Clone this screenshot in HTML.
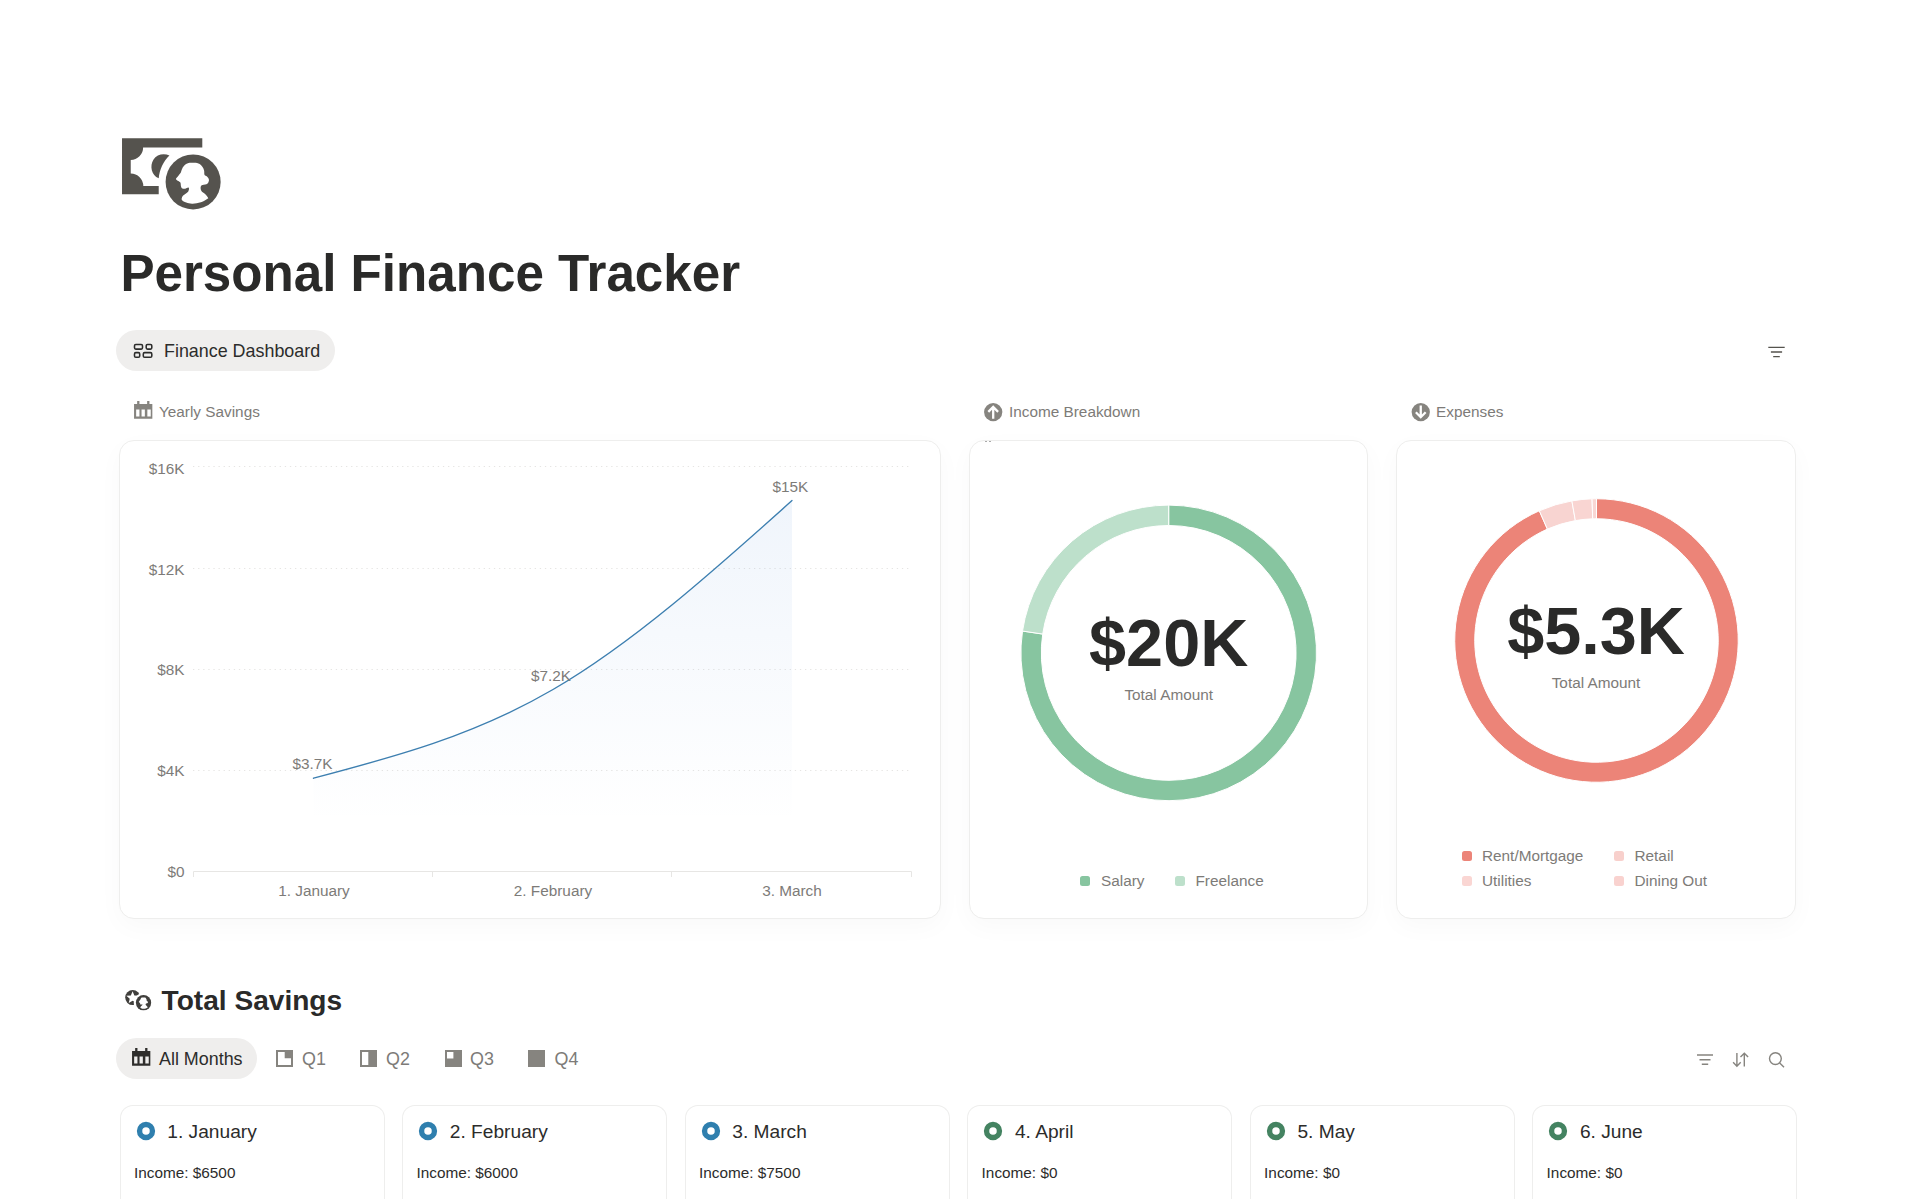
<!DOCTYPE html>
<html lang="en">
<head>
<meta charset="utf-8">
<title>Personal Finance Tracker</title>
<style>
*{box-sizing:border-box;margin:0;padding:0}
html,body{width:1920px;height:1199px;overflow:hidden;background:#fff}
body{position:relative;font-family:"Liberation Sans",Arial,sans-serif;color:#2c2c2b}
.abs{position:absolute;white-space:nowrap}
svg{position:absolute;overflow:visible}
#title{left:120.4px;top:245px;font-size:51.15px;line-height:58px;font-weight:700;color:#2a2a29}
.pill{background:#efeeed;border-radius:20.5px;height:41px}
.tabtxt{font-size:17.9px;line-height:40px;color:#2c2c2b}
.tabtxt.g{color:#7d7b78}
.lbl{font-size:15.34px;line-height:20px;color:#7d7b78}
.card{position:absolute;background:#fff;border:1px solid #eeeeed;border-radius:15px;box-shadow:0 8px 26px rgba(0,0,0,0.028)}
.mcard{position:absolute;background:#fff;border:1px solid #eeeeed;border-bottom:none;border-radius:13px 13px 0 0;top:1105px;height:100px;width:265px}
.mt{font-size:19.17px;line-height:24px;color:#2c2c2b;top:1120px}
.mi{font-size:15.34px;line-height:20px;color:#2c2c2b;top:1163px}
.big{font-size:66.6px;line-height:70px;font-weight:700;color:#2a2a29;text-align:center;width:400px}
.ta{font-size:15.34px;line-height:20px;color:#7d7b78;text-align:center;width:400px}
.lg{font-size:15.34px;line-height:20px;color:#7d7b78}
.sq{position:absolute;width:10px;height:10px;border-radius:2.5px}
#h2{left:161.6px;top:984px;font-size:28.1px;line-height:34px;font-weight:700;color:#2a2a29}
</style>
</head>
<body>
<div id="title" class="abs">Personal Finance Tracker</div>

<div class="abs pill" style="left:115.5px;top:330px;width:219.5px"></div>
<div class="abs tabtxt" style="left:164px;top:331px">Finance Dashboard</div>

<div class="abs lbl" style="left:159px;top:402px">Yearly Savings</div>
<div class="abs lbl" style="left:1009px;top:402px">Income Breakdown</div>
<div class="abs lbl" style="left:1436px;top:402px">Expenses</div>

<div class="card" style="left:119px;top:440px;width:822px;height:479px"></div>
<div class="card" style="left:969px;top:440px;width:399px;height:479px"></div>
<div class="card" style="left:1396px;top:440px;width:400px;height:479px"></div>

<svg id="charts" style="left:0;top:0" width="1920" height="1199" viewBox="0 0 1920 1199" font-family="Liberation Sans, Arial, sans-serif">
<defs><linearGradient id="ag" x1="0" y1="500" x2="0" y2="871" gradientUnits="userSpaceOnUse"><stop offset="0" stop-color="#4b87d7" stop-opacity="0.085"/><stop offset="0.87" stop-color="#4b87d7" stop-opacity="0.0"/></linearGradient></defs>
<line x1="193" y1="466.5" x2="912" y2="466.5" stroke="#e6e5e3" stroke-width="1" stroke-dasharray="1.3 3.8"/>
<line x1="193" y1="568.5" x2="912" y2="568.5" stroke="#e6e5e3" stroke-width="1" stroke-dasharray="1.3 3.8"/>
<line x1="193" y1="669.5" x2="912" y2="669.5" stroke="#e6e5e3" stroke-width="1" stroke-dasharray="1.3 3.8"/>
<line x1="193" y1="770.5" x2="912" y2="770.5" stroke="#e6e5e3" stroke-width="1" stroke-dasharray="1.3 3.8"/>
<path d="M313.5 778.2C393.33 757.12 473.17 736.05 553 689.5C632.67 643.24 712.33 572.02 792 500.6L792 871L313.5 871Z" fill="url(#ag)"/>
<path d="M313.5 778.2C393.33 757.12 473.17 736.05 553 689.5C632.67 643.24 712.33 572.02 792 500.6" fill="none" stroke="#3d7fb0" stroke-width="1.4" stroke-linecap="round"/>
<path d="M193.5 877V871.5H911.5V877M432.5 871.5V877M671.5 871.5V877" fill="none" stroke="#e7e6e4" stroke-width="1"/>
<g font-size="15.34" fill="#7d7b78" text-anchor="end">
<text x="184.5" y="473.8">$16K</text>
<text x="184.5" y="574.6">$12K</text>
<text x="184.5" y="675.4">$8K</text>
<text x="184.5" y="776.2">$4K</text>
<text x="184.5" y="877">$0</text>
</g>
<g font-size="15.34" fill="#7d7b78" text-anchor="middle">
<text x="314" y="896">1. January</text>
<text x="553" y="896">2. February</text>
<text x="792" y="896">3. March</text>
<text x="312.5" y="769.2">$3.7K</text><text x="551" y="680.6">$7.2K</text><text x="790.3" y="492.2">$15K</text>
</g>
<path d="M1168.70 505.10A147.8 147.8 0 1 1 1022.52 631.05L1042.70 634.07A127.4 127.4 0 1 0 1168.70 525.50Z" fill="#87c5a0" stroke="#fff" stroke-width="1"/>
<path d="M1022.52 631.05A147.8 147.8 0 0 1 1168.70 505.10L1168.70 525.50A127.4 127.4 0 0 0 1042.70 634.07Z" fill="#bde0cb" stroke="#fff" stroke-width="1"/>
<path d="M1596.50 498.75A141.75 141.75 0 1 1 1539.30 510.80L1547.37 529.10A121.75 121.75 0 1 0 1596.50 518.75Z" fill="#ec8478" stroke="#fff" stroke-width="1"/>
<path d="M1539.30 510.80A141.75 141.75 0 0 1 1571.89 500.90L1575.36 520.60A121.75 121.75 0 0 0 1547.37 529.10Z" fill="#f8d4d1" stroke="#fff" stroke-width="1"/>
<path d="M1571.89 500.90A141.75 141.75 0 0 1 1592.05 498.82L1592.68 518.81A121.75 121.75 0 0 0 1575.36 520.60Z" fill="#f9d5d2" stroke="#fff" stroke-width="1"/>
<path d="M1592.05 498.82A141.75 141.75 0 0 1 1596.50 498.75L1596.50 518.75A121.75 121.75 0 0 0 1592.68 518.81Z" fill="#f9d7d4" stroke="#fff" stroke-width="1"/>
</svg>

<div class="abs big" style="left:968.7px;top:608px">$20K</div>
<div class="abs ta" style="left:968.7px;top:685px">Total Amount</div>
<div class="abs big" style="left:1396px;top:596px">$5.3K</div>
<div class="abs ta" style="left:1396px;top:673px">Total Amount</div>

<div class="sq" style="left:1080.3px;top:875.6px;background:#87c5a0"></div>
<div class="abs lg" style="left:1101px;top:871px">Salary</div>
<div class="sq" style="left:1175px;top:875.6px;background:#bde0cb"></div>
<div class="abs lg" style="left:1195.5px;top:871px">Freelance</div>

<div class="sq" style="left:1462px;top:851.3px;background:#ec8478"></div>
<div class="abs lg" style="left:1482px;top:846px">Rent/Mortgage</div>
<div class="sq" style="left:1614.2px;top:851.3px;background:#f8d0cc"></div>
<div class="abs lg" style="left:1634.5px;top:846px">Retail</div>
<div class="sq" style="left:1462px;top:875.8px;background:#fad6d3"></div>
<div class="abs lg" style="left:1482px;top:871px">Utilities</div>
<div class="sq" style="left:1614.2px;top:875.8px;background:#f9d2cf"></div>
<div class="abs lg" style="left:1634.5px;top:871px">Dining Out</div>

<div id="h2" class="abs">Total Savings</div>

<div class="abs pill" style="left:115.5px;top:1038px;width:141.5px"></div>
<div class="abs tabtxt" style="left:159px;top:1039px">All Months</div>
<div class="abs tabtxt g" style="left:302px;top:1039px">Q1</div>
<div class="abs tabtxt g" style="left:386px;top:1039px">Q2</div>
<div class="abs tabtxt g" style="left:470px;top:1039px">Q3</div>
<div class="abs tabtxt g" style="left:554.5px;top:1039px">Q4</div>

<div class="mcard" style="left:120px"></div>
<svg style="left:135.8px;top:1121.4px" width="20" height="20" viewBox="0 0 20 20"><circle cx="10" cy="10" r="6.45" fill="none" stroke="#2f7fae" stroke-width="5.4"/></svg>
<div class="abs mt" style="left:167.3px">1. January</div>
<div class="abs mi" style="left:134.0px">Income: $6500</div>
<div class="mcard" style="left:402px"></div>
<svg style="left:418.3px;top:1121.4px" width="20" height="20" viewBox="0 0 20 20"><circle cx="10" cy="10" r="6.45" fill="none" stroke="#2f7fae" stroke-width="5.4"/></svg>
<div class="abs mt" style="left:449.8px">2. February</div>
<div class="abs mi" style="left:416.5px">Income: $6000</div>
<div class="mcard" style="left:685px"></div>
<svg style="left:700.8px;top:1121.4px" width="20" height="20" viewBox="0 0 20 20"><circle cx="10" cy="10" r="6.45" fill="none" stroke="#2f7fae" stroke-width="5.4"/></svg>
<div class="abs mt" style="left:732.3px">3. March</div>
<div class="abs mi" style="left:699.0px">Income: $7500</div>
<div class="mcard" style="left:967px"></div>
<svg style="left:983.4px;top:1121.4px" width="20" height="20" viewBox="0 0 20 20"><circle cx="10" cy="10" r="6.45" fill="none" stroke="#448361" stroke-width="5.4"/></svg>
<div class="abs mt" style="left:1014.9px">4. April</div>
<div class="abs mi" style="left:981.6px">Income: $0</div>
<div class="mcard" style="left:1250px"></div>
<svg style="left:1265.9px;top:1121.4px" width="20" height="20" viewBox="0 0 20 20"><circle cx="10" cy="10" r="6.45" fill="none" stroke="#448361" stroke-width="5.4"/></svg>
<div class="abs mt" style="left:1297.4px">5. May</div>
<div class="abs mi" style="left:1264.1px">Income: $0</div>
<div class="mcard" style="left:1532px"></div>
<svg style="left:1548.4px;top:1121.4px" width="20" height="20" viewBox="0 0 20 20"><circle cx="10" cy="10" r="6.45" fill="none" stroke="#448361" stroke-width="5.4"/></svg>
<div class="abs mt" style="left:1579.9px">6. June</div>
<div class="abs mi" style="left:1546.6px">Income: $0</div>
<svg style="left:100px;top:120px" width="160" height="110" viewBox="0 0 1744 1199">
<path fill="#55534e" d="M240 200H1115V300H470A135 135 0 0 1 335 435V582A138 138 0 0 1 472 720H640V810H240Z"/>
<path fill="#55534e" d="M757 388C700 360 620 372 582 432C540 500 560 600 640 636C650 540 690 450 757 388Z"/>
<circle cx="1015" cy="675" r="300" fill="#55534e"/>
<path fill="#fff" d="M1009.0 467.0C1033.4 467.0 1052.1 467.0 1073.0 475.0C1093.9 483.0 1101.3 492.4 1113.5 507.0C1125.7 521.6 1128.7 529.4 1134.0 548.0C1139.3 566.6 1133.6 586.6 1140.0 600.0C1146.4 613.4 1156.8 606.2 1166.0 615.0C1175.2 623.8 1182.6 631.8 1186.0 644.0C1189.4 656.2 1188.2 665.0 1183.0 676.0C1177.8 687.0 1175.6 691.4 1160.0 699.0C1144.4 706.6 1116.4 700.0 1105.0 714.0C1093.6 728.0 1094.4 749.8 1103.0 769.0C1111.6 788.2 1133.1 794.2 1148.0 810.0C1162.9 825.8 1172.7 838.2 1177.5 848.0C1182.3 857.8 1187.5 849.2 1172.0 859.0C1156.5 868.8 1132.6 886.4 1100.0 897.0C1067.4 907.6 1041.0 911.4 1009.0 912.0C977.0 912.6 962.7 907.6 940.0 900.0C917.3 892.4 904.9 883.9 895.4 874.0C885.9 864.1 889.6 861.0 892.5 850.5C895.4 840.0 896.1 836.0 910.0 821.5C923.9 807.0 951.0 794.9 962.0 778.0C973.0 761.1 972.0 742.8 965.0 737.0C958.0 731.2 940.4 747.2 927.0 749.0C913.6 750.8 906.6 750.2 898.0 746.0C889.4 741.8 888.0 739.6 884.0 728.0C880.0 716.4 881.0 698.4 878.0 688.0C875.0 677.6 878.9 684.2 869.0 676.0C859.1 667.8 833.1 658.6 828.5 647.0C823.9 635.4 835.5 633.2 846.0 618.0C856.5 602.8 872.8 583.8 881.0 571.0C889.2 558.2 881.2 566.8 887.0 554.0C892.8 541.2 897.2 522.8 910.0 507.0C922.8 491.2 931.2 483.0 951.0 475.0C970.8 467.0 984.6 467.0 1009.0 467.0Z"/>
</svg>
<svg style="left:133px;top:343px" width="20" height="16" viewBox="0 0 20 16" fill="none" stroke="#2c2c2b" stroke-width="1.55">
<rect x="1.5" y="1.5" width="8" height="4.6" rx="1.3"/><rect x="13.2" y="1.5" width="5.6" height="4.6" rx="1.3"/>
<rect x="1.5" y="9.6" width="5.2" height="4.6" rx="1.3"/><rect x="10.3" y="9.6" width="8.5" height="4.6" rx="1.3"/></svg>
<svg style="left:134.1px;top:401.4px" width="18.4" height="17.7" viewBox="0 0 18.3 17.7"><path fill="#86847f" fill-rule="evenodd" d="M0 2.9H3.1V0H5.4V2.9H13.1V0H15.4V2.9H18.3V17.7H0ZM2.1 8.5V15.6H5.4V8.5ZM7.5 8.5V15.6H10.8V8.5ZM13.3 8.5V15.6H16.7V8.5Z"/></svg>
<svg style="left:131.6px;top:1048.2px" width="18.4" height="17.7" viewBox="0 0 18.3 17.7"><path fill="#2f2e2c" fill-rule="evenodd" d="M0 2.9H3.1V0H5.4V2.9H13.1V0H15.4V2.9H18.3V17.7H0ZM2.1 8.5V15.6H5.4V8.5ZM7.5 8.5V15.6H10.8V8.5ZM13.3 8.5V15.6H16.7V8.5Z"/></svg>
<svg style="left:0;top:0" width="1920" height="1199" viewBox="0 0 1920 1199"><g transform="translate(993.2 412.1) scale(1 -1)"><circle r="9.15" fill="#86847f"/><path d="M0 -6.6V4.6M-4.9 0.2L0 5.1L4.9 0.2" fill="none" stroke="#fff" stroke-width="2.3"/></g><g transform="translate(1420.75 412.1)"><circle r="9.15" fill="#86847f"/><path d="M0 -6.6V4.6M-4.9 0.2L0 5.1L4.9 0.2" fill="none" stroke="#fff" stroke-width="2.3"/></g><path d="M1768.3 347.4H1784.7M1770.9 352H1782.1M1773.2 356.6H1779.8" stroke="#55534e" stroke-width="1.4" fill="none"/><path d="M1697 1055H1713M1699.5 1059.7H1710.5M1701.8 1064.3H1708.2" stroke="#86847f" stroke-width="1.4" fill="none"/><path d="M1736.9 1053V1066M1733.1 1062.3L1736.9 1066.2L1740.7 1062.3M1744.3 1066.5V1053.3M1740.5 1057.1L1744.3 1053.2L1748.1 1057.1" stroke="#86847f" stroke-width="1.4" fill="none"/><circle cx="1775.4" cy="1058.6" r="5.9" stroke="#86847f" stroke-width="1.4" fill="none"/><path d="M1779.7 1062.9L1784 1067.2" stroke="#86847f" stroke-width="1.4"/></svg>
<svg style="left:275.7px;top:1050px" width="17" height="17" viewBox="0 0 17 17"><path fill="#86847f" fill-rule="evenodd" d="M0 0H17V17H0ZM2 2V15H15V8.3H8.7V2Z"/></svg>
<svg style="left:360px;top:1050px" width="17" height="17" viewBox="0 0 17 17"><path fill="#86847f" fill-rule="evenodd" d="M0 0H17V17H0ZM2 2V15H8.3V2Z"/></svg>
<svg style="left:444.5px;top:1050px" width="17" height="17" viewBox="0 0 17 17"><path fill="#86847f" fill-rule="evenodd" d="M0 0H17V17H0ZM2 2V8.4H8.4V2Z"/></svg>
<svg style="left:528px;top:1050px" width="17" height="17" viewBox="0 0 17 17"><path fill="#86847f" d="M0 0H17V17H0Z"/></svg>
<svg style="left:118px;top:982px" width="40" height="36" viewBox="0 0 1332 1199">
<defs><mask id="cm"><rect width="1332" height="1199" fill="#fff"/><circle cx="850" cy="690" r="325" fill="#000"/></mask></defs>
<g mask="url(#cm)"><circle cx="490" cy="520" r="250" fill="#403f3c"/><path fill="#fff" d="M486.0 309.0L544.8 446.1L693.3 459.6L581.1 557.9L614.1 703.4L486.0 627.0L357.9 703.4L390.9 557.9L278.7 459.6L427.2 446.1Z"/></g>
<circle cx="850" cy="690" r="255" fill="#403f3c"/>
<g transform="translate(850 690) scale(0.850) translate(-1015 -675)"><path fill="#fff" d="M1009.0 467.0C1033.4 467.0 1052.1 467.0 1073.0 475.0C1093.9 483.0 1101.3 492.4 1113.5 507.0C1125.7 521.6 1128.7 529.4 1134.0 548.0C1139.3 566.6 1133.6 586.6 1140.0 600.0C1146.4 613.4 1156.8 606.2 1166.0 615.0C1175.2 623.8 1182.6 631.8 1186.0 644.0C1189.4 656.2 1188.2 665.0 1183.0 676.0C1177.8 687.0 1175.6 691.4 1160.0 699.0C1144.4 706.6 1116.4 700.0 1105.0 714.0C1093.6 728.0 1094.4 749.8 1103.0 769.0C1111.6 788.2 1133.1 794.2 1148.0 810.0C1162.9 825.8 1172.7 838.2 1177.5 848.0C1182.3 857.8 1187.5 849.2 1172.0 859.0C1156.5 868.8 1132.6 886.4 1100.0 897.0C1067.4 907.6 1041.0 911.4 1009.0 912.0C977.0 912.6 962.7 907.6 940.0 900.0C917.3 892.4 904.9 883.9 895.4 874.0C885.9 864.1 889.6 861.0 892.5 850.5C895.4 840.0 896.1 836.0 910.0 821.5C923.9 807.0 951.0 794.9 962.0 778.0C973.0 761.1 972.0 742.8 965.0 737.0C958.0 731.2 940.4 747.2 927.0 749.0C913.6 750.8 906.6 750.2 898.0 746.0C889.4 741.8 888.0 739.6 884.0 728.0C880.0 716.4 881.0 698.4 878.0 688.0C875.0 677.6 878.9 684.2 869.0 676.0C859.1 667.8 833.1 658.6 828.5 647.0C823.9 635.4 835.5 633.2 846.0 618.0C856.5 602.8 872.8 583.8 881.0 571.0C889.2 558.2 881.2 566.8 887.0 554.0C892.8 541.2 897.2 522.8 910.0 507.0C922.8 491.2 931.2 483.0 951.0 475.0C970.8 467.0 984.6 467.0 1009.0 467.0Z"/></g>
</svg>
<div style="position:absolute;left:984.5px;top:441px;width:2px;height:1px;background:#aaa"></div><div style="position:absolute;left:988.5px;top:441px;width:2px;height:1px;background:#aaa"></div>
</body>
</html>
